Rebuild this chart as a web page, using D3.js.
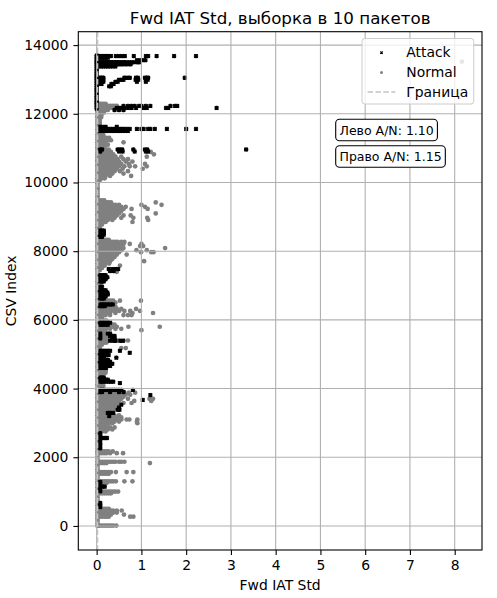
<!DOCTYPE html>
<html>
<head>
<meta charset="utf-8">
<script src="https://cdn.jsdelivr.net/npm/d3@7"></script>
<style>
  body { margin: 0; background: #fff; }
  svg { font-family: "DejaVu Sans", sans-serif; }
</style>
</head>
<body>
<svg id="chart" width="497" height="598"></svg>
<script>
// axis setup
var xTicks = [0, 1, 2, 3, 4, 5, 6, 7, 8];
var yTicks = [0, 2000, 4000, 6000, 8000, 10000, 12000, 14000];
var xDomain = [-0.41, 8.61];
var yDomain = [-700, 14390];
var boundaryX = 0.02;
var legendLabels = ["Attack", "Normal", "Граница"];
var ratioLabels = ["Лево A/N: 1.10", "Право A/N: 1.15"];

// attack rows with Fwd IAT Std = 0 (the black column at the top)
var attackZeroY = [12150,12200,12250,12300,12350,12400,12450,12500,12550,12600,12650,12700,
  12750,12800,12850,12900,12950,13000,13050,13100,13150,13200,13250,13300,13350,13400,
  13450,13500,13550,13600,13650,13700];

// normal rows sitting on the left edge
var normalZeroX = 0.02;
var normalZeroY = [0,75,150,225,300,375,450,525,600,675,750,825,900,975,1050,1125,1200,1275,
  1350,1425,1500,1575,1650,1725,1800,1875,1950,2025,2100,2175,2250,2325,2400,2475,2550,2625,
  2700,2775,2850,2925,3000,3075,3150,3225,3300,3375,3450,3525,3600,3675,3750,3825,3900,3975,
  4050,4125,4200,4275,4350,4425,4500,4575,4650,4725,4800,4875,4950,5025,5100,5175,5250,5325,
  5400,5475,5550,5625,5700,5775,5850,5925,6000,6075,6150,6225,6300,6375,6450,6525,6600,6675,
  6750,6825,6900,6975,7050,7125,7200,7275,7350,7425,7500,7575,7650,7725,7800,7875,7950,8025,
  8100,8175,8250,8325,8400,8475,8550,8625,8700,8775,8850,8925,9000,9075,9150,9225,9300,9375,
  9450,9525,9600,9675,9750,9825,9900,9975,10050,10125,10200,10275,10350,10425,10500,10575,
  10650,10725,10800,10875,10950,11025,11100,11175,11250,11325,11400,11475,11550,11625,11700,
  11775,11850,11925,12000,12075,12150,12225,12300];

// [csv index, [Fwd IAT Std values]]
var attackRows = [
  [13680, [0.03,0.06,0.1,0.13,0.17,0.2,0.24,0.28,0.32,0.43,0.5,0.57,0.63,0.83,1.1,1.15,1.34,1.73,2.22]],
  [13630, [0.05,0.1,0.15,0.2,0.25]],
  [13560, [0.9,0.97,1.03,1.09]],
  [13500, [0.03,0.07,0.11,0.15,0.19,0.23,0.27,0.31,0.35,0.39,0.43,0.47,0.52,0.57,0.62,0.68,0.75,0.82,0.9,0.95]],
  [13440, [0.03,0.07,0.11,0.15,0.19,0.23,0.27,0.31,0.35,0.39,0.43,0.48,0.53,0.58,0.64,0.7,0.76]],
  [13380, [0.05,0.1,0.15,0.2,0.25,0.3,0.36,0.42]],
  [13050, [0.03,0.07,0.11,0.15,0.62,0.68,0.74,0.88,0.92,1.08,1.12,1.15,1.97]],
  [12990, [0.03,0.07,0.11,0.15,0.5,0.55,0.6,0.87,0.93,1.1,1.14]],
  [12930, [0.03,0.07,0.11,0.15,0.42,0.47,0.9,1.1]],
  [12870, [0.03,0.07,0.11,0.33,0.38]],
  [12800, [0.28,0.32]],
  [12230, [0.6,0.7,0.78,0.85,0.95,1.0,1.1,1.2,1.65,1.75,1.8]],
  [12170, [0.45,0.5,0.55,0.62,0.7,0.78,0.88,1.05,1.12,1.55,1.6,2.68]],
  [12110, [0.4,0.5,0.6]],
  [11620, [0.08,0.12,0.2,0.45]],
  [11560, [0.08,0.12,0.16,0.2,0.24,0.28,0.33,0.38,0.43,0.48,0.53,0.58,0.63,0.68,0.74,0.9,1.0,1.05,1.15,1.2,1.3,1.57,2.0,2.22]],
  [11500, [0.08,0.12,0.16,0.2,0.24,0.28,0.33,0.38,0.43,0.48,0.53,0.58,0.63,0.7]],
  [10960, [0.08,0.12,0.47,0.52,0.57,0.82,1.08,1.13,3.34]],
  [10900, [0.08,0.5,0.58,0.85,1.1,1.15]],
  [8600, [0.08,0.12,0.16]], [8540, [0.08,0.12,0.16]], [8480, [0.08,0.12,0.16]], [8420, [0.08,0.12]],
  [7480, [0.27,0.35,0.42,0.48]], [7420, [0.3,0.38]],
  [7300, [0.08,0.12,0.16,0.2]], [7240, [0.08,0.12,0.16,0.2,0.24]], [7180, [0.08,0.12,0.16,0.2]], [7120, [0.08,0.12,0.16]],
  [6960, [0.08,0.12]],
  [6860, [0.08,0.12,0.16,0.2]], [6800, [0.08,0.12,0.16,0.2,0.24]], [6740, [0.08,0.12,0.16,0.2,0.25]],
  [6680, [0.08,0.12,0.16,0.2]], [6620, [0.08,0.12,0.16]],
  [6450, [0.08,0.12,0.16,0.21,0.26,0.31,0.36]], [6400, [0.08,0.13,0.18]],
  [5920, [0.08,0.12,0.16,0.21,0.26,0.3]], [5860, [0.08,0.12,0.16,0.21,0.25]],
  [5600, [0.08,0.25,0.3]], [5530, [0.08,0.3,0.35,0.4]], [5460, [0.08,0.35,0.4]], [5390, [0.3,0.38,0.42,0.53,0.59]],
  [5100, [0.08,0.12,0.16,0.21,0.26,0.3,0.52]], [5040, [0.08,0.12,0.16,0.21,0.74]], [4980, [0.08,0.12,0.16,0.22,0.27]],
  [4900, [0.08,0.12,0.16,0.44]], [4840, [0.08,0.12,0.16,0.21,0.25]], [4780, [0.08,0.12,0.16,0.21,0.26,0.3]],
  [4720, [0.08,0.12,0.16,0.21,0.26,0.31,0.35]], [4660, [0.08,0.12,0.16,0.21,0.26,0.3]], [4600, [0.08,0.12,0.16,0.21]],
  [4320, [0.08,0.12,0.16]], [4260, [0.08,0.12,0.16,0.21,0.25]], [4200, [0.08,0.12,0.16,0.21,0.27,0.32,0.37]], [4160, [0.52]],
  [3960, [0.08,0.12,0.16,0.2,0.24,0.28,0.32,0.36,0.4,0.45,0.5,0.55,0.81]], [3900, [0.08,0.12,0.3,0.5,0.6]],
  [3810, [1.2]], [3670, [1.03]],
  [3530, [0.55]], [3450, [0.5]], [3380, [0.47,0.51]], [3290, [0.25,0.3,0.37]], [3200, [0.28]],
  [2700, [0.08]], [2640, [0.08]], [2560, [0.08,0.13,0.18,0.23]], [2500, [0.08]], [2400, [0.08]], [2330, [0.08]], [2260, [0.08]],
  [1280, [0.08]], [1220, [0.08]], [1145, [0.08,0.13,0.18]], [1080, [0.08]], [1010, [0.08]],
  [670, [0.08]], [610, [0.08]], [550, [0.08]]
];

var normalRows = [
  [12290, [0.03,0.07,0.11,0.15,0.2]],
  [12230, [0.03,0.07,0.11,0.15,0.2,0.25,0.3,0.35,0.4,0.45]],
  [12170, [0.03,0.07,0.11,0.15,0.2,0.25,0.3,0.36]],
  [12110, [0.03,0.07,0.11,0.15,0.2,0.25]],
  [12040, [0.03,0.07,0.11,0.16]],
  [11970, [0.03,0.07,0.11]], [11900, [0.03,0.07,0.1]],
  [11820, [0.03,0.07]], [11740, [0.03,0.07]], [11680, [0.03,0.07]],
  [11380, [0.03,0.07,0.11,0.15]],
  [11300, [0.03,0.07,0.12,0.17,0.22,0.28]],
  [11230, [0.03,0.07,0.12,0.17,0.22,0.27,0.32]],
  [11170, [0.03,0.07,0.12,0.18,0.6]],
  [11100, [0.03,0.07,0.12,0.2,0.25]],
  [11030, [0.03,0.07,0.12,0.17]],
  [10960, [0.03,0.07,0.12,0.17,0.22,0.27]],
  [10890, [0.03,0.07,0.12,0.17,0.22,0.27,0.32,1.21]],
  [10820, [0.03,0.07,0.12,0.17,0.22,0.27,0.32,0.37,1.28]],
  [10750, [0.03,0.07,0.12,0.17,0.22,0.27,0.32,0.37,0.42,0.55,1.12]],
  [10680, [0.03,0.07,0.12,0.17,0.22,0.27,0.32,0.37,0.42,0.47,0.6,0.7]],
  [10610, [0.03,0.07,0.12,0.17,0.22,0.27,0.32,0.37,0.42,0.5,0.65,0.8]],
  [10540, [0.03,0.07,0.12,0.17,0.22,0.27,0.32,0.37,0.45,0.55,0.72,1.08]],
  [10470, [0.03,0.07,0.12,0.17,0.22,0.27,0.32,0.4,0.5,0.62,0.74,0.86,1.12]],
  [10400, [0.03,0.07,0.12,0.17,0.22,0.27,0.35,0.45,0.58,1.03]],
  [10330, [0.03,0.07,0.12,0.17,0.22,0.3,0.4,0.52,0.7]],
  [10260, [0.03,0.07,0.12,0.17,0.25,0.35,0.6]],
  [10190, [0.03,0.07,0.12,0.2,0.3,0.77]],
  [10120, [0.03,0.07,0.12,0.18]], [10070, [0.03,0.07]],
  [9480, [0.03,0.07,0.12,0.17]],
  [9420, [0.03,0.07,0.12,0.17,0.22,0.27,0.32,1.32]],
  [9350, [0.03,0.07,0.12,0.17,0.22,0.27,0.32,0.37,0.42,0.5,1.0,1.45]],
  [9290, [0.03,0.07,0.12,0.17,0.22,0.27,0.32,0.37,0.42,0.47,0.55,0.65,1.08]],
  [9230, [0.03,0.07,0.12,0.17,0.22,0.27,0.32,0.37,0.42,0.5,0.6,0.78,1.14]],
  [9170, [0.03,0.07,0.12,0.17,0.22,0.27,0.32,0.37,0.45,0.55]],
  [9100, [0.03,0.07,0.12,0.17,0.22,0.27,0.32,0.4,0.5,1.32]],
  [9040, [0.03,0.07,0.12,0.17,0.22,0.27,0.35,0.45,0.6,0.76]],
  [8970, [0.03,0.07,0.12,0.17,0.22,0.3,0.4,0.55,0.82,1.13]],
  [8910, [0.03,0.07,0.12,0.17,0.25,0.35,1.15]],
  [8850, [0.03,0.07,0.12,0.2,0.8]],
  [8780, [0.03,0.07,0.12]], [8700, [0.03,0.07]],
  [8330, [0.03,0.07,0.12,0.17,0.22,0.27]],
  [8270, [0.03,0.07,0.12,0.17,0.22,0.27,0.32,0.37,0.42,0.47,0.55,0.62]],
  [8210, [0.03,0.07,0.12,0.17,0.22,0.27,0.32,0.37,0.42,0.47,0.52,0.6,0.74,1.0]],
  [8150, [0.03,0.07,0.12,0.17,0.22,0.27,0.32,0.37,0.42,0.47,0.55,0.97,1.04]],
  [8090, [0.03,0.07,0.12,0.17,0.22,0.27,0.32,0.37,0.42,0.5,0.6,1.53]],
  [8030, [0.03,0.07,0.12,0.17,0.22,0.27,0.32,0.37,0.45,0.55,0.89,1.12]],
  [7970, [0.03,0.07,0.12,0.17,0.22,0.27,0.32,0.4,0.5,0.99,1.22,1.27]],
  [7900, [0.03,0.07,0.12,0.17,0.22,0.27,0.35,0.45,0.67]],
  [7830, [0.03,0.07,0.12,0.17,0.22,0.3,0.4]],
  [7770, [0.03,0.07,0.12,0.17,0.25,0.35]],
  [7710, [0.03,0.07,0.12,0.2,0.3,1.06]],
  [7640, [0.03,0.07,0.12,0.2,0.28]],
  [7580, [0.03,0.07,0.12,0.18,0.52]],
  [7510, [0.03,0.07,0.12]], [7450, [0.03,0.07]], [7400, [0.45]],
  [7050, [0.05,0.1]], [6990, [0.05,0.1]],
  [6560, [0.03,0.07,0.12,0.17,0.22,0.27,0.32,0.37,0.52,0.99]],
  [6500, [0.03,0.07,0.12,0.17,0.22,0.27,0.32,0.37,0.42]],
  [6380, [0.03,0.07,0.12,0.17,0.22,0.27,0.32,0.37,0.42]],
  [6320, [0.03,0.07,0.12,0.17,0.22,0.27,0.32,0.37,0.45,0.55,0.88]],
  [6260, [0.03,0.07,0.12,0.17,0.22,0.27,0.32,0.4,0.5,0.62,0.75,0.97]],
  [6200, [0.03,0.07,0.12,0.17,0.22,0.3,0.42,0.8,1.26]],
  [6140, [0.03,0.07,0.12,0.2,0.3,0.6,0.7,0.78]],
  [6080, [0.03,0.07,0.12]],
  [5980, [0.03,0.07,0.12,0.17,0.22]],
  [5860, [0.3,0.35,0.4]],
  [5800, [0.03,0.07,0.12,0.17,0.22,0.27,0.32,0.37,0.45,0.71,1.41]],
  [5740, [0.03,0.07,0.12,0.17,0.22,0.3,0.42,0.55]],
  [5700, [0.03,0.07,0.15,1.0]],
  [5650, [0.03,0.07,0.12,0.17]],
  [5590, [0.03,0.07,0.12,0.17,0.22]],
  [5530, [0.03,0.07,0.12,0.17,0.22]],
  [5460, [0.03,0.07,0.12,0.17,0.22,0.27]],
  [5400, [0.03,0.07,0.12,0.17,0.22,0.45,0.5,0.6,0.7]],
  [5340, [0.03,0.07,0.12,0.17,0.22]],
  [5280, [0.03,0.07,0.12]], [5200, [0.03,0.07]], [5180, [0.55,0.65]],
  [4520, [0.05,0.1,0.15,0.2]], [4460, [0.05,0.1,0.15,0.2]], [4400, [0.05,0.1,0.15]],
  [4080, [0.05,0.1,0.15]], [4020, [0.05,0.1]],
  [3880, [0.03,0.07,0.12,0.17,0.22,0.27,0.32,0.37,0.42,0.62,0.72,0.86]],
  [3820, [0.03,0.07,0.12,0.17,0.22,0.27,0.32,0.37,0.42,0.47,0.55,0.65,0.75]],
  [3760, [0.03,0.07,0.12,0.17,0.22,0.27,0.32,0.37,0.42,0.5,0.6]],
  [3700, [0.03,0.07,0.12,0.17,0.22,0.27,0.32,0.37,0.45,0.55,0.7,1.18,1.26]],
  [3640, [0.03,0.07,0.12,0.17,0.22,0.27,0.32,0.4,0.5,0.84,1.22]],
  [3580, [0.03,0.07,0.12,0.17,0.22,0.27,0.32,0.37,0.45,0.6,0.78]],
  [3520, [0.03,0.07,0.12,0.17,0.22,0.27,0.35,0.45]],
  [3460, [0.03,0.07,0.12,0.17,0.22,0.27,0.32,0.4]],
  [3400, [0.03,0.07,0.12,0.17,0.22,0.3,0.4]],
  [3340, [0.03,0.07,0.12,0.17,0.22,0.27,0.35]],
  [3280, [0.03,0.07,0.12,0.17,0.22,0.3]],
  [3220, [0.03,0.07,0.12,0.17,0.22,0.27,0.32,0.4,0.5]],
  [3160, [0.03,0.07,0.12,0.17,0.22,0.27,0.32,0.37,0.45,0.55]],
  [3100, [0.03,0.07,0.12,0.17,0.22,0.27,0.32,0.37,0.45,0.55,0.67,0.73,0.91]],
  [3040, [0.03,0.07,0.12,0.17,0.22,0.27,0.32,0.4,0.5,0.9]],
  [2990, [0.03,0.07,0.12,0.17,0.22,0.27,0.35,0.91]],
  [2930, [0.03,0.07,0.12,0.17,0.22]],
  [2870, [0.03,0.07,0.12,0.17,0.22,0.3,0.4]],
  [2810, [0.03,0.07,0.12,0.17,0.25,0.35]],
  [2750, [0.03,0.07,0.12,0.2]], [2690, [0.03,0.07]],
  [2170, [0.03,0.07,0.12,0.17,0.22,0.27,0.36]],
  [2120, [0.03,0.07,0.12,0.17,0.22,0.3,0.45,0.59]],
  [1870, [0.03,0.07,0.12,0.17,0.22,0.27,0.32,0.37,0.42,0.5,0.55,0.62]],
  [1830, [0.03,0.07,0.12,0.17,0.22,1.19]],
  [1570, [0.03,0.07,0.12,0.17,0.22,0.27,0.32,0.43,0.67,0.82]],
  [1520, [0.03,0.07,0.12,0.17,0.22,0.27]],
  [1300, [0.03,0.07,0.12,0.17,0.22,0.27,0.32,0.37,0.43,0.62,0.8]],
  [1250, [0.03,0.07,0.12,0.17,0.22]],
  [1000, [0.03,0.07,0.12,0.17,0.22,0.27,0.32,0.37,0.42,0.48]],
  [950, [0.03,0.07,0.12,0.17,0.22,0.27,0.32]],
  [500, [0.03,0.07,0.12,0.17,0.22,0.27]],
  [450, [0.03,0.07,0.12,0.17,0.22,0.27,0.32,0.37,0.45,0.56]],
  [390, [0.03,0.07,0.12,0.17,0.22,0.27,0.32,0.37,0.45]],
  [330, [0.03,0.07,0.12,0.17,0.22,0.27,0.32,0.61]],
  [270, [0.03,0.07,0.12,0.17,0.22,0.27,0.75,0.82]],
  [10, [0.03,0.07,0.12,0.17,0.22,0.27,0.32,0.37,0.44]]
];
var normalOutliers = [[8.16, 13520]];

var plot = { left: 78.3, top: 31.7, right: 482, bottom: 550 };
var gridColor = "#b0b0b0";
var normalColor = "#808080";
var boundaryColor = "#c4c4c4";

var svg = d3.select("#chart");
var x = d3.scaleLinear().domain(xDomain).range([plot.left, plot.right]);
var y = d3.scaleLinear().domain(yDomain).range([plot.bottom, plot.top]);

function rowsToPoints(rows) {
  return rows.flatMap(function (r) { return r[1].map(function (v) { return [v, r[0]]; }); });
}
var normalPts = normalZeroY.map(function (v) { return [normalZeroX, v]; })
  .concat(rowsToPoints(normalRows), normalOutliers);
var attackPts = attackZeroY.map(function (v) { return [0, v]; })
  .concat(rowsToPoints(attackRows));

// small "x" with a "+" inside, reads as the blobby star the reference shows
function starPath(s) {
  var d = s * 1.2;
  return "M" + (-s) + "," + (-s) + "L" + s + "," + s + "M" + (-s) + "," + s + "L" + s + "," + (-s) +
    "M" + (-d) + ",0L" + d + ",0M0," + (-d) + "L0," + d;
}
function crossPath(s) {
  return "M" + (-s) + "," + (-s) + "L" + s + "," + s + "M" + (-s) + "," + s + "L" + s + "," + (-s);
}

svg.append("clipPath").attr("id", "plotclip")
  .append("rect")
  .attr("x", plot.left).attr("y", plot.top)
  .attr("width", plot.right - plot.left).attr("height", plot.bottom - plot.top);

var marks = svg.append("g").attr("clip-path", "url(#plotclip)");

marks.append("g").selectAll("circle")
  .data(normalPts)
  .join("circle")
  .attr("cx", function (d) { return x(d[0]); })
  .attr("cy", function (d) { return y(d[1]); })
  .attr("r", 2.35)
  .attr("fill", normalColor);

marks.append("g").selectAll("path")
  .data(attackPts)
  .join("path")
  .attr("transform", function (d) { return "translate(" + x(d[0]) + "," + y(d[1]) + ")"; })
  .attr("d", starPath(1.8))
  .attr("stroke", "#000")
  .attr("stroke-width", 1.3)
  .attr("fill", "none");

// grid over the markers, like matplotlib does for scatter
var grid = marks.append("g").attr("stroke", gridColor).attr("stroke-width", 1.1);
grid.selectAll("line.gx").data(xTicks).join("line").attr("class", "gx")
  .attr("x1", function (d) { return x(d); }).attr("x2", function (d) { return x(d); })
  .attr("y1", plot.top).attr("y2", plot.bottom);
grid.selectAll("line.gy").data(yTicks).join("line").attr("class", "gy")
  .attr("y1", function (d) { return y(d); }).attr("y2", function (d) { return y(d); })
  .attr("x1", plot.left).attr("x2", plot.right);

// boundary
marks.append("line")
  .attr("x1", x(boundaryX)).attr("x2", x(boundaryX))
  .attr("y1", plot.top).attr("y2", plot.bottom)
  .attr("stroke", boundaryColor).attr("stroke-width", 1.5)
  .attr("stroke-dasharray", "5.5,2.4");

// axes
var xAxis = svg.append("g")
  .attr("transform", "translate(0," + plot.bottom + ")")
  .call(d3.axisBottom(x).tickValues(xTicks).tickSize(4.9).tickPadding(5.5).tickFormat(d3.format("d")));
var yAxis = svg.append("g")
  .attr("transform", "translate(" + plot.left + ",0)")
  .call(d3.axisLeft(y).tickValues(yTicks).tickSize(4.9).tickPadding(5).tickFormat(d3.format("d")));
[xAxis, yAxis].forEach(function (a) {
  a.select(".domain").remove();
  a.attr("font-family", "DejaVu Sans, sans-serif").attr("font-size", 13.9);
  a.selectAll("line").attr("stroke-width", 1.1);
  a.selectAll("text").attr("fill", "#000");
});

svg.append("rect")
  .attr("x", plot.left).attr("y", plot.top)
  .attr("width", plot.right - plot.left).attr("height", plot.bottom - plot.top)
  .attr("fill", "none").attr("stroke", "#000").attr("stroke-width", 1.1);

// titles
var cx = (plot.left + plot.right) / 2;
svg.append("text").attr("x", cx).attr("y", 23.5).attr("text-anchor", "middle")
  .attr("font-size", 16.7).text("Fwd IAT Std, выборка в 10 пакетов");
svg.append("text").attr("x", cx).attr("y", 590).attr("text-anchor", "middle")
  .attr("font-size", 13.9).text("Fwd IAT Std");
svg.append("text")
  .attr("transform", "translate(16," + ((plot.top + plot.bottom) / 2) + ") rotate(-90)")
  .attr("text-anchor", "middle").attr("font-size", 13.9).text("CSV Index");

// legend
var legend = svg.append("g");
var legBox = legend.append("rect")
  .attr("x", 362).attr("y", 38.5).attr("height", 65.5).attr("rx", 2.8)
  .attr("fill", "#fff").attr("fill-opacity", 0.8)
  .attr("stroke", "#cccccc").attr("stroke-width", 1);
var legRowY = [52.7, 72.4, 92];
var textX = 406.3, maxW = 0;
legendLabels.forEach(function (lab, i) {
  var t = legend.append("text").attr("x", textX).attr("y", legRowY[i] + 4.6)
    .attr("font-size", 13.9).text(lab);
  maxW = Math.max(maxW, t.node().getComputedTextLength());
});
legBox.attr("width", textX + maxW + 5.6 - 362);
legend.append("path")
  .attr("transform", "translate(381.5," + legRowY[0] + ")")
  .attr("d", crossPath(1.2)).attr("stroke", "#000").attr("stroke-width", 1.2);
legend.append("circle").attr("cx", 381.5).attr("cy", legRowY[1]).attr("r", 1.5)
  .attr("fill", normalColor);
legend.append("line")
  .attr("x1", 367.6).attr("x2", 395.4).attr("y1", legRowY[2]).attr("y2", legRowY[2])
  .attr("stroke", boundaryColor).attr("stroke-width", 1.5).attr("stroke-dasharray", "5.5,2.4");

// A/N ratio boxes
var boxTop = [119.3, 145.7];
ratioLabels.forEach(function (lab, i) {
  var g = svg.append("g");
  var r = g.append("rect").attr("x", 335.7).attr("y", boxTop[i]).attr("height", 21.5)
    .attr("rx", 3.8).attr("fill", "#fff").attr("stroke", "#000").attr("stroke-width", 1.1);
  var t = g.append("text").attr("x", 339.5).attr("y", boxTop[i] + 15.2)
    .attr("font-size", 12.5).text(lab);
  r.attr("width", t.node().getComputedTextLength() + 7.5);
});
</script>
</body>
</html>
